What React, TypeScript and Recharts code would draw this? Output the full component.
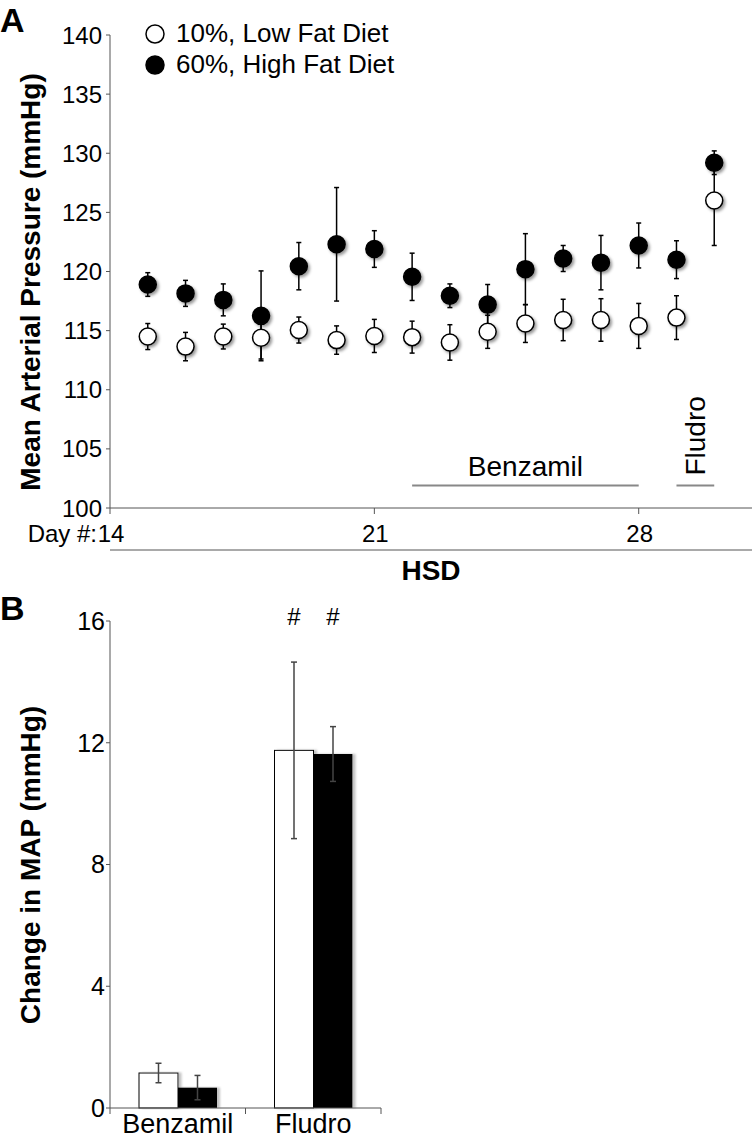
import React from "react";
import {
  ScatterChart,
  Scatter,
  XAxis,
  YAxis,
  ErrorBar,
  ReferenceLine,
  Legend,
  BarChart,
  Bar,
  LabelList,
} from "recharts";

// Panel A: daily mean arterial pressure
const days = [15, 16, 17, 18, 19, 20, 21, 22, 23, 24, 25, 26, 27, 28, 29, 30];
const lowFatMap = [114.5, 113.65, 114.5, 114.4, 115.05, 114.2, 114.55, 114.45, 114.0, 114.9, 115.6, 115.9, 115.9, 115.4, 116.1, 126.0];
const lowFatSem = [1.1, 1.2, 1.05, 1.8, 1.1, 1.2, 1.4, 1.35, 1.5, 1.4, 1.6, 1.75, 1.8, 1.9, 1.85, 3.8];
const highFatMap = [118.9, 118.15, 117.6, 116.25, 120.45, 122.3, 121.9, 119.55, 117.95, 117.2, 120.2, 121.1, 120.75, 122.2, 121.0, 129.2];
const highFatSem = [1.0, 1.1, 1.35, 3.8, 2.0, 4.8, 1.55, 2.0, 1.0, 1.7, 3.0, 1.1, 2.3, 1.9, 1.6, 1.0];
const dayTicks = [14, 21, 28];
const mapTicks = [100, 105, 110, 115, 120, 125, 130, 135, 140];
const benzamilDays = [22, 28];
const fludroDays = [29, 30];

// Panel B: change in MAP per treatment
const treatments = ["Benzamil", "Fludro"];
const lowFatChange = [1.15, 11.75];
const lowFatChangeSem = [0.32, 2.9];
const highFatChange = [0.67, 11.63];
const highFatChangeSem = [0.4, 0.9];
const changeMarks = ["", "#"];
const changeTicks = [0, 4, 8, 12, 16];

const LOW_NAME = "10%, Low Fat Diet";
const HIGH_NAME = "60%, High Fat Diet";
const FONT = '"Liberation Sans", Arial, Helvetica, sans-serif';
const AXIS = "#555";
const PERIOD_Y = 101.9;

const lowFatRows = days.map((day, i) => ({ day, map: lowFatMap[i], sem: lowFatSem[i] }));
const highFatRows = days.map((day, i) => ({ day, map: highFatMap[i], sem: highFatSem[i] }));
const changeRows = treatments.map((treatment, i) => ({
  treatment,
  low: lowFatChange[i],
  lowSem: lowFatChangeSem[i],
  high: highFatChange[i],
  highSem: highFatChangeSem[i],
  mark: changeMarks[i],
}));

function Dot(props: any) {
  const { cx, cy, fill } = props;
  if (cx == null || cy == null) return null;
  return <circle cx={cx} cy={cy} r={8.5} fill={fill} stroke="#000" strokeWidth={1.5} filter="url(#pointShadow)" />;
}

function DayTick({ x, y, payload }: any) {
  return (
    <g>
      {payload.value === 14 && (
        <text x={x - 13} y={y} dy="0.71em" textAnchor="end" fontSize={24} fill="#000">
          Day #:
        </text>
      )}
      <text x={x + 1} y={y} dy="0.71em" textAnchor="middle" fontSize={24} fill="#000">
        {payload.value}
      </text>
    </g>
  );
}

// category label plus tick marks on the category edges
function CategoryTick(props: any) {
  const { x, y, payload, index, width, visibleTicksCount, tickMargin = 0 } = props;
  const half = payload && payload.offset ? payload.offset : width / (2 * (visibleTicksCount || 2));
  const axisY = y - tickMargin - 6;
  return (
    <g>
      {index === 0 && <line x1={x - half} y1={axisY} x2={x - half} y2={axisY + 6} stroke={AXIS} />}
      <line x1={x + half} y1={axisY} x2={x + half} y2={axisY + 6} stroke={AXIS} />
      <text x={x} y={y} dy="0.71em" textAnchor="middle" fontSize={27} fill="#000">
        {payload.value}
      </text>
    </g>
  );
}

function DietLegend({ payload }: any) {
  return (
    <div style={{ fontFamily: FONT, fontSize: 26, lineHeight: "31px", color: "#000" }}>
      {(payload || []).map((entry: any) => (
        <div key={entry.value} style={{ display: "flex", alignItems: "center", whiteSpace: "nowrap" }}>
          <svg width={20} height={20} style={{ marginRight: 11 }}>
            <circle
              cx={10}
              cy={10}
              r={9}
              fill={entry.value === HIGH_NAME ? "#000" : "#fff"}
              stroke="#000"
              strokeWidth={1.5}
            />
          </svg>
          {entry.value}
        </div>
      ))}
    </div>
  );
}

const yTitleA = () => (
  <text
    x={30}
    y={282}
    transform="rotate(-90, 30, 282)"
    textAnchor="middle"
    dominantBaseline="central"
    fontSize={28}
    fontWeight="bold"
    fill="#000"
  >
    Mean Arterial Pressure (mmHg)
  </text>
);

const hsdTitle = (props: any) => {
  const vb = props.viewBox || { x: 110, y: 550, width: 642 };
  return (
    <text x={vb.x + vb.width / 2} y={vb.y + 30} textAnchor="middle" fontSize={28} fontWeight="bold" fill="#000">
      HSD
    </text>
  );
};

const fludroLabel = (props: any) => {
  const vb = props.viewBox || { x: 678, y: 486, width: 37 };
  const cx = vb.x + vb.width / 2;
  const by = vb.y - 10;
  return (
    <text
      x={cx}
      y={by}
      transform={`rotate(-90, ${cx}, ${by})`}
      textAnchor="start"
      dominantBaseline="central"
      fontSize={28}
      fill="#000"
    >
      Fludro
    </text>
  );
};

const yTitleB = () => (
  <text
    x={30}
    y={275}
    transform="rotate(-90, 30, 275)"
    textAnchor="middle"
    dominantBaseline="central"
    fontSize={28}
    fontWeight="bold"
    fill="#000"
  >
    Change in MAP (mmHg)
  </text>
);

const MarkLabel = (props: any) => {
  const { x, width, value } = props;
  if (!value) return null;
  return (
    <text x={x + width / 2} y={26} textAnchor="middle" dominantBaseline="central" fontSize={24} fill="#000">
      {value}
    </text>
  );
};

const ShadowBar = (props: any) => {
  const { x, y, width, height, fill, stroke } = props;
  return (
    <rect
      x={x}
      y={y}
      width={width}
      height={height}
      fill={fill}
      stroke={stroke || "none"}
      strokeWidth={1}
      filter="url(#barShadow)"
    />
  );
};

function PressurePanel() {
  return (
    <ScatterChart width={755} height={590} margin={{ top: 35, right: 3, bottom: 0, left: 50 }}>
      <XAxis
        type="number"
        dataKey="day"
        domain={[14, 31]}
        ticks={dayTicks}
        allowDataOverflow
        height={42}
        tickSize={6}
        tickMargin={11}
        tick={<DayTick />}
        stroke={AXIS}
      />
      <XAxis
        xAxisId="hsd"
        type="number"
        domain={[14, 31]}
        allowDataOverflow
        tick={false}
        tickLine={false}
        height={40}
        stroke={AXIS}
        label={hsdTitle}
      />
      <YAxis
        type="number"
        dataKey="map"
        domain={[100, 140]}
        ticks={mapTicks}
        width={60}
        tickSize={4}
        tickMargin={4}
        stroke={AXIS}
        tick={{ fontSize: 24, fill: "#000" }}
        label={yTitleA}
      />
      <Legend
        content={<DietLegend />}
        layout="horizontal"
        verticalAlign="middle"
        align="center"
        itemSorter="value"
        wrapperStyle={{ top: 18, left: 145, width: "auto" }}
      />
      <ReferenceLine
        segment={[
          { x: benzamilDays[0], y: PERIOD_Y },
          { x: benzamilDays[1], y: PERIOD_Y },
        ]}
        stroke="#888"
        strokeWidth={2}
        label={{ value: "Benzamil", position: "top", offset: 10, fontSize: 28, fill: "#000" }}
      />
      <ReferenceLine
        segment={[
          { x: fludroDays[0], y: PERIOD_Y },
          { x: fludroDays[1], y: PERIOD_Y },
        ]}
        stroke="#888"
        strokeWidth={2}
        label={fludroLabel}
      />
      <Scatter name={HIGH_NAME} data={highFatRows} fill="#000" shape={<Dot />} isAnimationActive={false}>
        <ErrorBar dataKey="sem" direction="y" width={2.5} stroke="#000" strokeWidth={1.5} isAnimationActive={false} />
      </Scatter>
      <Scatter name={LOW_NAME} data={lowFatRows} fill="#fff" shape={<Dot />} isAnimationActive={false}>
        <ErrorBar dataKey="sem" direction="y" width={2.5} stroke="#000" strokeWidth={1.5} isAnimationActive={false} />
      </Scatter>
    </ScatterChart>
  );
}

function ChangePanel() {
  return (
    <BarChart
      width={400}
      height={550}
      data={changeRows}
      margin={{ top: 31, right: 19, bottom: 0, left: 50 }}
      barGap={0}
      barCategoryGap={28}
    >
      <XAxis
        dataKey="treatment"
        height={32}
        tickLine={false}
        tickSize={6}
        tickMargin={0}
        interval={0}
        tick={<CategoryTick tickMargin={0} />}
        stroke={AXIS}
      />
      <YAxis
        domain={[0, 16]}
        ticks={changeTicks}
        width={60}
        tickSize={4}
        tickMargin={1}
        stroke={AXIS}
        tick={{ fontSize: 25, fill: "#000" }}
        label={yTitleB}
      />
      <Bar dataKey="low" name={LOW_NAME} fill="#fff" stroke="#000" barSize={39} shape={<ShadowBar />} isAnimationActive={false}>
        <ErrorBar dataKey="lowSem" direction="y" width={3} stroke="#444" strokeWidth={1.5} isAnimationActive={false} />
        <LabelList dataKey="mark" content={MarkLabel} />
      </Bar>
      <Bar dataKey="high" name={HIGH_NAME} fill="#000" barSize={39} shape={<ShadowBar />} isAnimationActive={false}>
        <ErrorBar dataKey="highSem" direction="y" width={3} stroke="#444" strokeWidth={1.5} isAnimationActive={false} />
        <LabelList dataKey="mark" content={MarkLabel} />
      </Bar>
    </BarChart>
  );
}

export default function App() {
  return (
    <div
      style={{
        position: "absolute",
        left: 0,
        top: 0,
        width: 755,
        height: 1140,
        background: "#fff",
        fontFamily: FONT,
        overflow: "hidden",
      }}
    >
      <svg width={0} height={0} style={{ position: "absolute" }}>
        <defs>
          <filter id="pointShadow" x="-50%" y="-50%" width="200%" height="200%">
            <feDropShadow dx={2} dy={2} stdDeviation={1.5} floodColor="#000" floodOpacity={0.4} />
          </filter>
          <filter id="barShadow" x="-20%" y="-5%" width="140%" height="110%">
            <feDropShadow dx={3} dy={0} stdDeviation={0.8} floodColor="#999" floodOpacity={0.6} />
          </filter>
        </defs>
      </svg>
      <div style={{ position: "absolute", left: 0, top: 0 }}>
        <PressurePanel />
      </div>
      <div style={{ position: "absolute", left: 0, top: 590 }}>
        <ChangePanel />
      </div>
      <div style={{ position: "absolute", left: 0, top: 0, fontSize: 34, fontWeight: "bold", lineHeight: "40px" }}>A</div>
      <div style={{ position: "absolute", left: 0, top: 588, fontSize: 34, fontWeight: "bold", lineHeight: "40px" }}>B</div>
    </div>
  );
}
